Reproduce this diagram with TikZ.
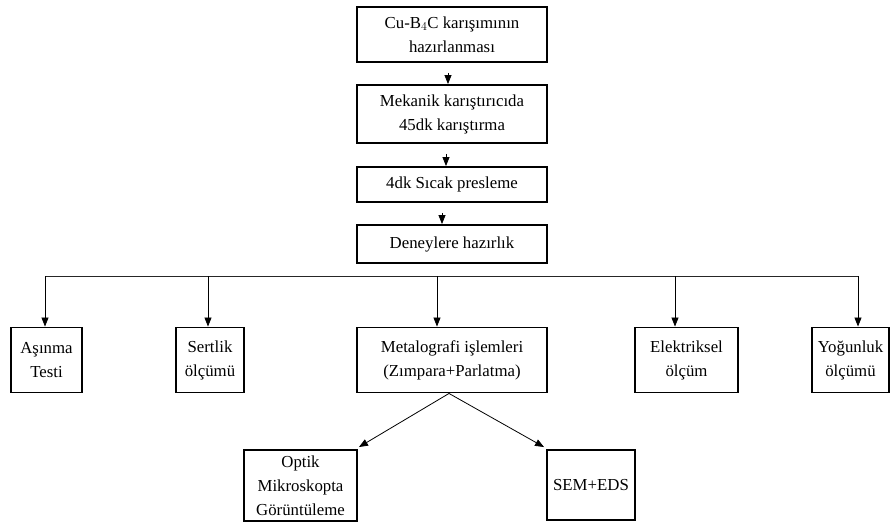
\documentclass[tikz,border=0pt]{standalone}
\usepackage{fontspec}
\setmainfont{Liberation Serif}
\usetikzlibrary{arrows.meta,calc}
\tikzset{
  box/.style={draw, line width=1.9pt, align=center, inner sep=0pt,
    font=\fontsize{16.8}{24}\selectfont},
  arr/.style={line width=0.8pt, -{Triangle[length=9pt,width=7pt]}},
  bus/.style={line width=0.9pt, draw=black!85}
}
\begin{document}
\begin{tikzpicture}[x=1pt,y=-1pt]
\useasboundingbox[fill=white] (0,0) rectangle (891,522);
% main chain
\node[box, minimum width=190pt, minimum height=55pt] (b1) at (452,34.5) {Cu-B$_4$C karışımının\\hazırlanması};
\node[box, minimum width=190pt, minimum height=58pt] (b2) at (452,114) {Mekanik karıştırıcıda\\45dk karıştırma};
\node[box, minimum width=190pt, minimum height=35pt] (b3) at (452,184.5) {4dk Sıcak presleme};
\node[box, minimum width=190pt, minimum height=38pt] (b4) at (452,244) {Deneylere hazırlık};
\draw[arr] ([xshift=-4pt,yshift=-10pt]b1.south) -- ([xshift=-4pt]b2.north);
\draw[arr] ([xshift=-6pt,yshift=-10pt]b2.south) -- ([xshift=-6pt]b3.north);
\draw[arr] ([xshift=-10pt,yshift=-10pt]b3.south) -- ([xshift=-10pt]b4.north);
% second row
\node[box, minimum width=71pt, minimum height=65pt] (a1) at (46.5,360) {Aşınma\\Testi};
\node[box, minimum width=68pt, minimum height=65pt] (a2) at (210,360) {Sertlik\\ölçümü};
\node[box, minimum width=190pt, minimum height=65pt] (a3) at (452,360) {Metalografi işlemleri\\(Zımpara+Parlatma)};
\node[box, minimum width=103pt, minimum height=65pt] (a4) at (686.5,360) {Elektriksel\\ölçüm};
\node[box, minimum width=77pt, minimum height=65pt] (a5) at (850.5,360) {Yoğunluk\\ölçümü};
\coordinate (busL) at (45,276);
\coordinate (busR) at (858,276);
\draw[bus] (busL) -- (busR);
\draw[arr] (busL) -- (busL |- a1.north);
\draw[arr] ([xshift=-2pt]a2.north |- busL) -- ([xshift=-2pt]a2.north);
\draw[arr] ([xshift=-15pt]a3.north |- busL) -- ([xshift=-15pt]a3.north);
\draw[arr] ([xshift=-11.5pt]a4.north |- busL) -- ([xshift=-11.5pt]a4.north);
\draw[arr] (busR) -- (busR |- a5.north);
% third row
\node[box, minimum width=113pt, minimum height=71pt] (c1) at (300.5,485.5) {Optik\\Mikroskopta\\Görüntüleme};
\node[box, minimum width=88pt, minimum height=70pt] (c2) at (591,485) {SEM+EDS};
\draw[arr] ([xshift=-3pt]a3.south) -- ([xshift=1pt,yshift=2pt]c1.north east);
\draw[arr] ([xshift=-3pt]a3.south) -- ([xshift=-2pt,yshift=2pt]c2.north west);
\end{tikzpicture}
\end{document}
